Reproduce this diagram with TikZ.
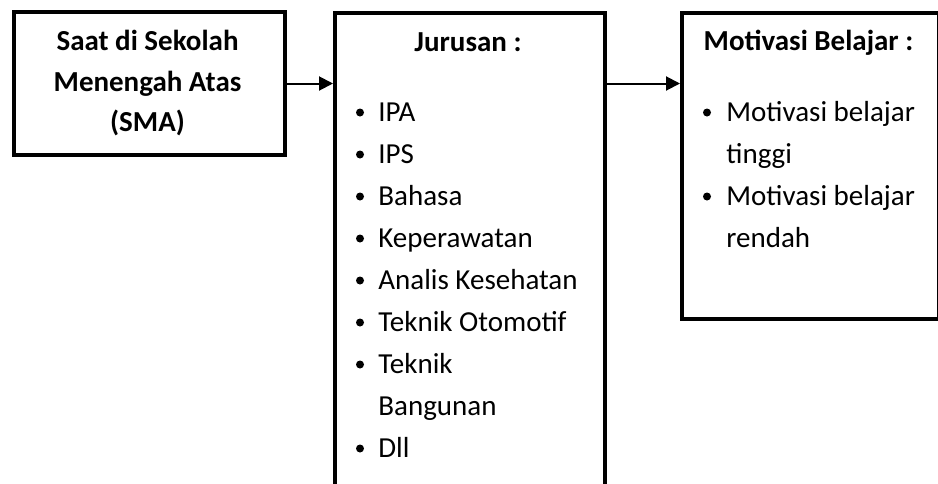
\documentclass[tikz,border=0pt]{standalone}
\usepackage{fontspec}
\setmainfont{Carlito}
\usetikzlibrary{arrows.meta}
\tikzset{
  box/.style={draw, line width=2pt, inner sep=0pt, anchor=north west},
  title/.style={font=\fontsize{14.5}{20}\selectfont\bfseries, anchor=base},
  item/.style={font=\fontsize{14.5}{20}\selectfont, anchor=base west, inner sep=0pt},
  dot/.style={circle, fill, inner sep=0pt, minimum size=4pt}
}

\begin{document}
\begin{tikzpicture}[x=0.5pt, y=-0.5pt]
        \useasboundingbox (0,0) rectangle (938,483);

        \node[box, minimum width=135.5pt, minimum height=71.5pt] (sma) at (12,10) {};
        \node[box, minimum width=135pt, minimum height=260pt] (jur) at (333,11) {};
        \node[box, minimum width=128.5pt, minimum height=153pt] (mot) at (680,11) {};

        \node[title] (sma1) at (147.5,50) {Saat di Sekolah};
        \node[title] (sma2) at (147.5,91) {Menengah Atas};
        \node[title] (sma3) at (147.5,131) {(SMA)};
        \node[title] (jurT) at (468,51) {Jurusan :};
        \node[title] (motT) at (808.5,50) {Motivasi Belajar :};

        \node[item] (ipa) at (378,121) {IPA};
        \node[item] (ips) at (378,163) {IPS};
        \node[item] (bhs) at (378,205) {Bahasa};
        \node[item] (kep) at (378,247) {Keperawatan};
        \node[item] (ana) at (378,289) {Analis Kesehatan};
        \node[item] (oto) at (378,331) {Teknik Otomotif};
        \node[item] (tek) at (378,373) {Teknik};
        \node[item] (bgn) at (378,415) {Bangunan};
        \node[item] (dll) at (378,457) {Dll};

        \node[item] (mt1) at (726,121) {Motivasi belajar};
        \node[item] (mt2) at (726,163) {tinggi};
        \node[item] (mr1) at (726,205) {Motivasi belajar};
        \node[item] (mr2) at (726,247) {rendah};

        \foreach \y in {112.5,154.5,196.5,238.5,280.5,322.5,364.5,448.5}
            \node[dot] at (360,\y) {};
        \foreach \y in {112.5,196.5}
            \node[dot] at (707,\y) {};

        \begin{scope}[>={Triangle[length=7pt,width=7pt]}, every edge/.style={draw,line width=1pt}]
            \path [->] (sma.east) edge (sma.east -| jur.west);
            \path [->] (sma.east -| jur.east) edge (sma.east -| mot.west);
        \end{scope}
\end{tikzpicture}
\end{document}
